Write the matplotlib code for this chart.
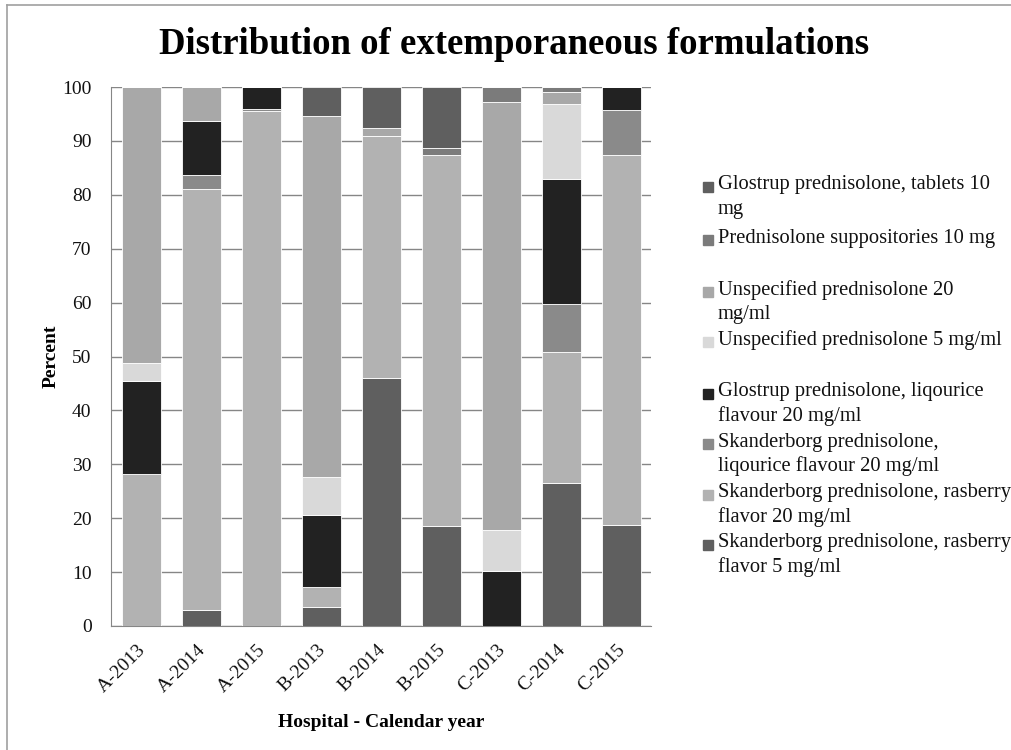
import matplotlib

matplotlib.use("Agg")
import matplotlib.pyplot as plt
import matplotlib.transforms as mtransforms
import numpy as np
from matplotlib.lines import Line2D

# categories (hospital - year)
categories = ["A-2013", "A-2014", "A-2015", "B-2013", "B-2014",
              "B-2015", "C-2013", "C-2014", "C-2015"]

# series, bottom of stack first (percent)
rasb5 = [0.0, 3.0, 0.0, 3.6, 46.0, 18.5, 0.0, 26.6, 18.7]
rasb20 = [28.2, 78.1, 95.5, 3.6, 45.0, 68.9, 0.0, 24.2, 68.7]
skand_liq = [0.0, 2.6, 0.5, 0.0, 0.0, 0.0, 0.0, 8.9, 8.4]
glostrup_liq = [17.3, 9.9, 4.0, 13.4, 0.0, 0.0, 10.2, 23.3, 4.2]
unspec5 = [3.3, 0.0, 0.0, 7.1, 0.0, 0.0, 7.7, 13.8, 0.0]
unspec20 = [51.2, 6.4, 0.0, 67.0, 1.4, 0.0, 79.4, 2.3, 0.0]
suppositories = [0.0, 0.0, 0.0, 0.0, 0.0, 1.2, 2.7, 0.9, 0.0]
tablets = [0.0, 0.0, 0.0, 5.3, 7.6, 11.4, 0.0, 0.0, 0.0]

series = [
    ("Skanderborg prednisolone, rasberry\nflavor 5 mg/ml", rasb5, "#5f5f5f"),
    ("Skanderborg prednisolone, rasberry\nflavor 20 mg/ml", rasb20, "#b2b2b2"),
    ("Skanderborg prednisolone,\nliqourice flavour 20 mg/ml", skand_liq, "#8a8a8a"),
    ("Glostrup prednisolone, liqourice\nflavour 20 mg/ml", glostrup_liq, "#222222"),
    ("Unspecified prednisolone 5 mg/ml", unspec5, "#d9d9d9"),
    ("Unspecified prednisolone 20\nmg/ml", unspec20, "#a8a8a8"),
    ("Prednisolone suppositories 10 mg", suppositories, "#7b7b7b"),
    ("Glostrup prednisolone, tablets 10\nmg", tablets, "#5f5f5f"),
]

plt.rcParams["font.family"] = ["Liberation Serif", "DejaVu Serif"]

W, H = 1012, 750
fig = plt.figure(figsize=(W / 100, H / 100), dpi=100)
ax = fig.add_axes([111 / W, 1 - 626 / H, 540 / W, 539 / H])

x = np.arange(len(categories))
bottom = np.zeros(len(categories))
for label, values, color in series:
    vals = np.array(values)
    ax.bar(x, vals, bottom=bottom, width=0.65, color=color,
           edgecolor="white", linewidth=0.6, zorder=3)
    bottom += vals

ax.set_xlim(-0.5, len(categories) - 0.5)
ax.set_ylim(0, 100)
ax.set_yticks(np.arange(0, 101, 10))
ax.set_xticks(x, categories, rotation=45, ha="right", rotation_mode="anchor")
ax.tick_params(axis="both", length=0, labelsize=14, colors="#111111")
ax.tick_params(axis="y", pad=14)
ax.tick_params(axis="x", pad=11)
# nudge rotated category labels slightly to the left
shift = mtransforms.ScaledTranslation(-4 / 100, 0, fig.dpi_scale_trans)
for lbl in ax.get_xticklabels():
    lbl.set_transform(lbl.get_transform() + shift)
ax.grid(True, axis="y", color="#868686", linewidth=1.0, zorder=0)
for side in ["top", "right"]:
    ax.spines[side].set_visible(False)
ax.spines["left"].set_color("#868686")
ax.spines["bottom"].set_color("#868686")

ax.set_ylabel("Percent", fontsize=14, fontweight="bold", labelpad=2)
ax.set_xlabel("Hospital - Calendar year", fontsize=14, fontweight="bold", labelpad=13)
fig.text(514 / W, 1 - 45 / H, "Distribution of extemporaneous formulations",
         ha="center", va="center", fontsize=26.5, fontweight="bold")

# legend drawn manually to keep the uneven spacing (top entry first)
legend_y = [185, 238, 290, 340, 392, 442, 493, 543]
for (label, values, color), ly in zip(series[::-1], legend_y):
    fig.add_artist(Line2D([708 / W], [1 - (ly + 2) / H], marker="s", markersize=6.5,
                          color=color, linestyle="none", transform=fig.transFigure))
    for i, line in enumerate(label.split("\n")):
        fig.text(718 / W, 1 - (ly + 24.5 * i) / H, line, ha="left", va="center",
                 fontsize=14.8, color="#111111")

# chart area border (top and left edges visible)
fig.add_artist(Line2D([7 / W, 1], [1 - 4.5 / H, 1 - 4.5 / H], color="#a0a0a0",
                      linewidth=1.2, transform=fig.transFigure))
fig.add_artist(Line2D([7 / W, 7 / W], [0, 1 - 4.5 / H], color="#a0a0a0",
                      linewidth=1.2, transform=fig.transFigure))

fig.savefig("out.png", dpi=100)
